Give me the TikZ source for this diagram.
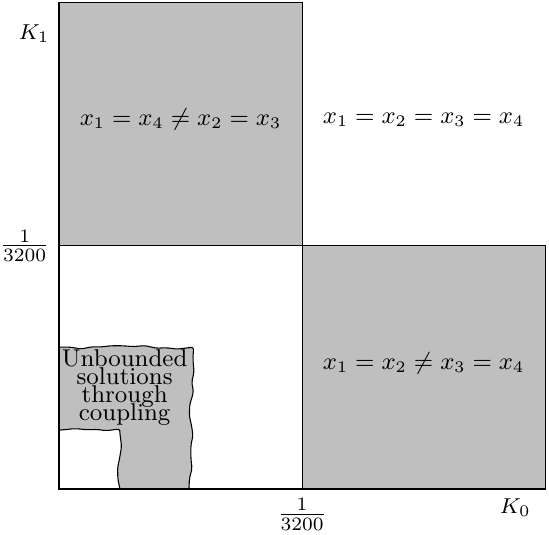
\documentclass[tikz,border=0pt]{standalone}
\usetikzlibrary{decorations.pathmorphing}

\begin{document}
\begin{tikzpicture}[
    x=3.165cm, y=3.165cm,
    region/.style={draw, fill=black!25},
    torn/.style={draw, fill=black!25, decorate,
        decoration={random steps, segment length=4pt, amplitude=0.8pt},
        rounded corners=0.8pt},
    every node/.style={font=\small}
]
\pgfmathsetseed{7}
\useasboundingbox (-0.2427,-0.1892) rectangle (2.0157,2.0116);

% Shaded regions
\draw[region] (0,1) rectangle (1,2);
\draw[region] (1,0) rectangle (2,1);

% Ragged area near the origin
\begin{scope}
    \clip (0,0) rectangle (1,1);
    \path[torn] (-0.1,0.242) -- (-0.1,0.582) -- (0.549,0.582)
        -- (0.537,-0.1) -- (0.25,-0.1) -- (0.25,0.242) -- cycle;
\end{scope}

% Axes
\draw (0,2) -- (0,0) -- (2,0);

% Axis labels
\node[left, font=\footnotesize] (k1) at (0,1.873) {$K_1$};
\node[below, font=\footnotesize] (k0) at (1.877,0) {$K_0$};
\node[left, font=\normalsize] (ylim) at (0,1) {$\frac{1}{3200}$};
\node[below, font=\normalsize] (xlim) at (1,0) {$\frac{1}{3200}$};

% Region labels
\node (tl) at (0.5,1.52) {$x_1 = x_4 \neq x_2 = x_3$};
\node (tr) at (1.5,1.52) {$x_1 = x_2 = x_3 = x_4$};
\node (br) at (1.5,0.515) {$x_1 = x_2 \neq x_3 = x_4$};
\node[align=center] (coupling) at (0.27,0.418)
    {Unbounded\\[-4.3pt]solutions\\[-4.3pt]through\\[-4.3pt]coupling};

\end{tikzpicture}
\end{document}
